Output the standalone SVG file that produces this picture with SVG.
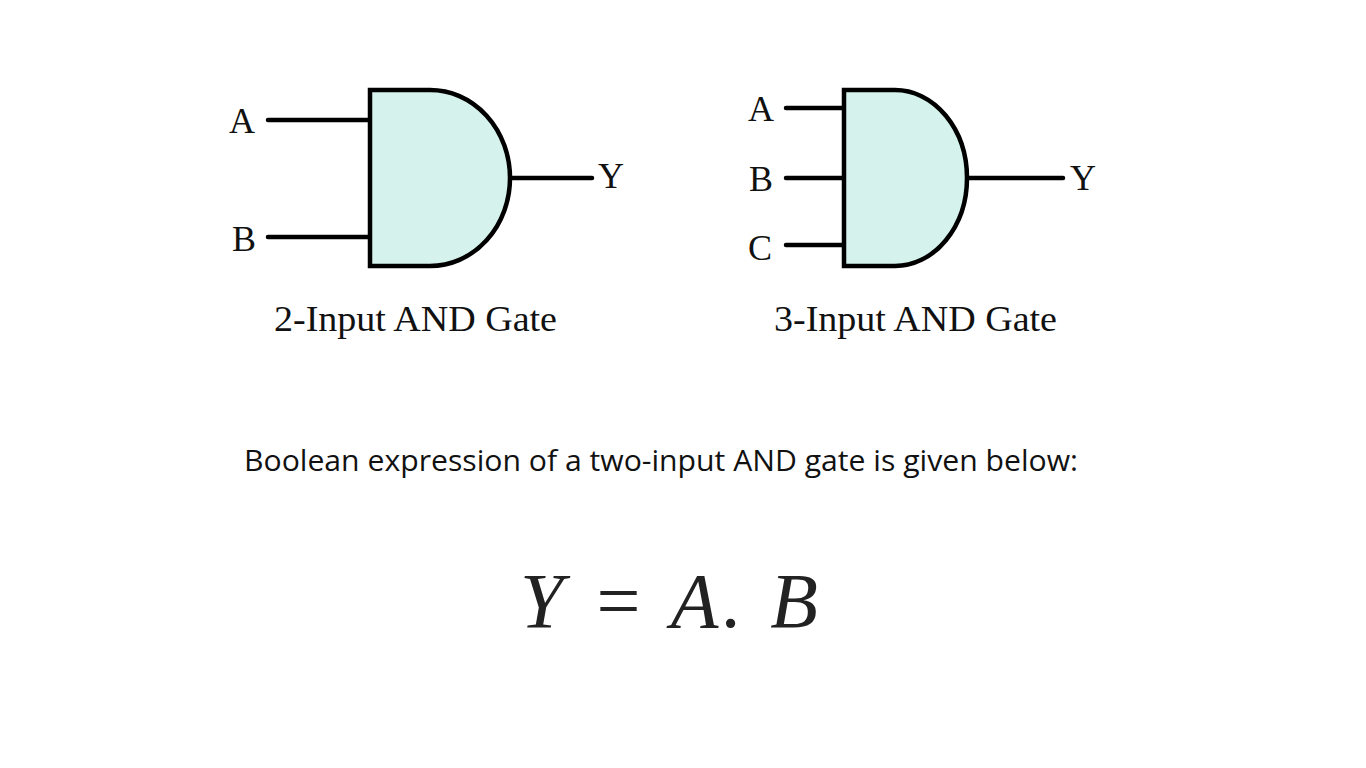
<svg xmlns="http://www.w3.org/2000/svg" width="1366" height="768" viewBox="0 0 1366 768">
<style>
.g{fill:#d5f3ec;stroke:#000;stroke-width:4.5}
.w{stroke:#000;stroke-width:4.5;stroke-linecap:round;fill:none}
.l{font-family:"Liberation Serif",serif;font-size:36px;fill:#111}
.c{font-family:"Liberation Serif",serif;font-size:36px;fill:#111}
</style>
<rect width="1366" height="768" fill="#fff"/>
<g id="connectors">
<line class="w" x1="268" y1="120" x2="370" y2="120"/>
<line class="w" x1="268" y1="237" x2="370" y2="237"/>
<line class="w" x1="510" y1="178" x2="592" y2="178"/>
<line class="w" x1="786" y1="108" x2="844" y2="108"/>
<line class="w" x1="786" y1="178" x2="844" y2="178"/>
<line class="w" x1="786" y1="245" x2="844" y2="245"/>
<line class="w" x1="967" y1="178" x2="1063" y2="178"/>
</g>
<g id="gate2in">
<path class="g" d="M370,90 H430 A80,88 0 0 1 430,266 H370 Z"/>
<text class="l" x="229" y="133">A</text>
<text class="l" x="232" y="251">B</text>
<text class="l" x="598" y="188">Y</text>
<text class="c" x="274" y="331" textLength="283" lengthAdjust="spacingAndGlyphs">2-Input AND Gate</text>
</g>
<g id="gate3in">
<path class="g" d="M844,90 H895 A72,88 0 0 1 895,266 H844 Z"/>
<text class="l" x="748" y="121">A</text>
<text class="l" x="749" y="191">B</text>
<text class="l" x="748" y="260">C</text>
<text class="l" x="1070" y="190">Y</text>
<text class="c" x="774" y="331" textLength="283" lengthAdjust="spacingAndGlyphs">3-Input AND Gate</text>
</g>
<text x="244" y="471" textLength="834" lengthAdjust="spacingAndGlyphs" font-family="Open Sans,sans-serif" font-size="30" fill="#111">Boolean expression of a two-input AND gate is given below:</text>
<text x="520" y="627" textLength="298" lengthAdjust="spacing" font-family="Liberation Serif,serif" font-style="italic" font-size="78" fill="#222">Y = A. B</text>
</svg>
